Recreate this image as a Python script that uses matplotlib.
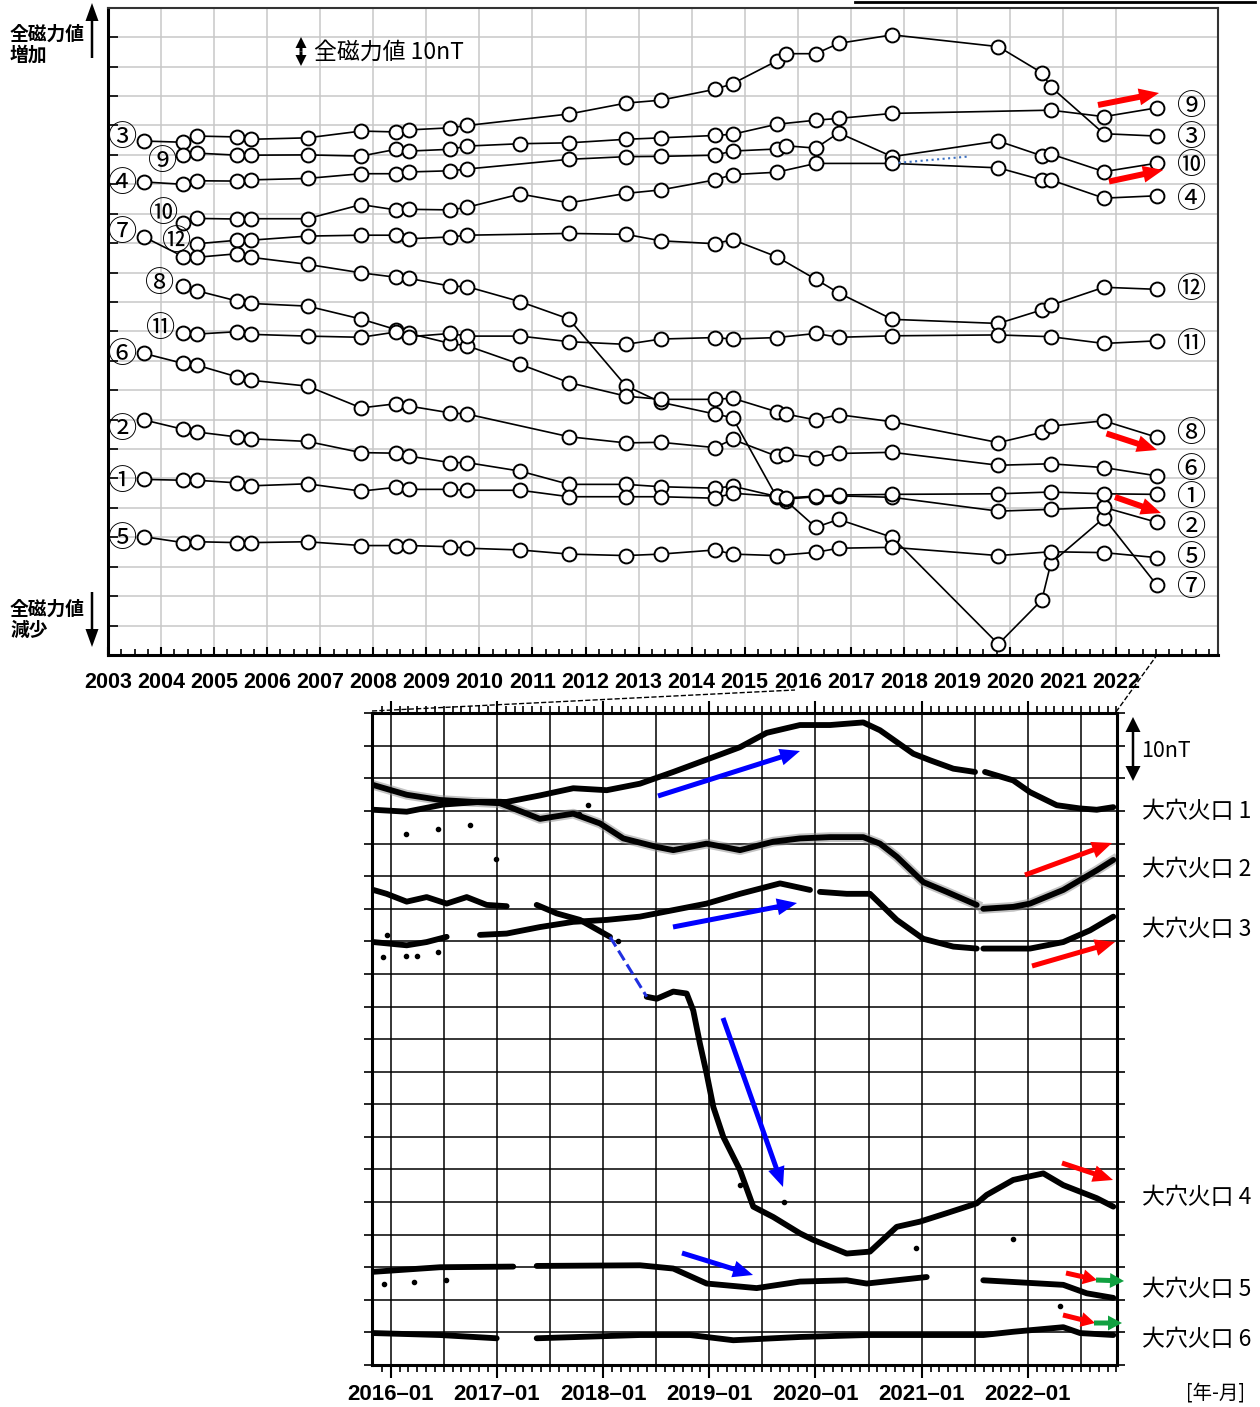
import numpy as np
import matplotlib
matplotlib.use("Agg")
import matplotlib.pyplot as plt
from matplotlib.patches import FancyArrow

plt.rcParams['font.family'] = ['Noto Sans CJK JP', 'DejaVu Sans']

N = None
# ---------------- top panel data (survey dates, relative total field, nT) ----------------
survey_dates = [2003.68, 2004.42, 2004.68, 2005.44, 2005.69, 2006.76, 2007.77, 2008.43, 2008.68,
                2009.45, 2009.77, 2010.77, 2011.69, 2012.76, 2013.42, 2014.44, 2014.77, 2015.60,
                2015.78, 2016.34, 2016.77, 2017.78, 2019.78, 2020.60, 2020.77, 2021.77, 2022.77]
s3 = [174.7, 174.3, 176.4, 176.1, 175.3, 175.8, 178.1, 177.8, 178.5, 179.2, 180.0, N, 183.9, 187.6, 188.6,
      192.3, 194.2, 201.9, 204.4, 204.4, 207.9, 210.8, 206.8, 197.9, 193.1, 177.2, 176.4]
s9 = [N, 169.9, 170.6, 169.9, 169.9, 170.0, 169.6, 171.9, 171.3, 171.9, 173.0, 173.8, 174.1, 175.3, 175.8,
      176.6, 177.0, 180.4, N, 181.8, 182.4, 184.1, N, N, 185.2, 183.0, 186.0]
s4 = [160.8, 160.0, 161.2, 161.1, 161.5, 162.0, 163.6, 163.6, 164.2, 164.6, 165.2, N, 168.5, 169.4, 169.5,
      169.9, 171.3, 172.0, 173.1, 172.3, 177.5, 169.4, 174.7, 169.7, 170.3, 164.3, 167.2]
s10 = [N, 146.9, 148.4, 148.2, 148.3, 148.3, 153.1, 151.3, 151.5, 151.3, 152.2, 156.7, 153.7, 156.9, 158.1,
       161.5, 163.3, 164.1, N, 167.1, N, 167.1, 165.6, 161.5, 161.5, 155.3, 156.1]
s12 = [N, N, 139.8, 141.0, 141.0, 142.4, 142.7, 142.7, 141.5, 142.1, 142.7, N, 143.3, 143.0, 140.8,
       139.8, 141.2, 135.4, N, 127.7, 123.1, 114.1, 112.7, 117.3, 118.9, 125.0, 124.3]
s7 = [142.1, 135.4, 135.2, 136.4, 135.2, 132.8, 129.9, 128.4, 128.0, 125.4, 125.2, 120.1, 114.2, 91.5, 85.9,
      81.9, 80.7, 53.8, 52.4, 43.4, 46.1, 40.0, 3.7, 18.7, 31.2, 46.6, 23.7]
s8 = [N, 125.4, 123.8, 120.3, 119.5, 118.6, 114.2, 110.6, 109.3, 105.9, 105.1, 98.8, 92.6, 88.0, 86.9,
      86.9, 87.3, 82.7, 81.9, 79.9, 81.7, 79.3, 72.2, 75.7, 77.8, 79.6, 74.0]
s11 = [N, 109.6, 109.1, 109.9, 109.0, 108.4, 108.0, 109.8, 108.2, 109.3, 108.4, 108.4, 106.5, 105.6, 107.4,
       107.9, 107.4, 107.9, N, 109.3, 108.0, 108.5, 108.8, N, 108.2, 105.9, 106.8]
s6 = [102.5, 99.1, 98.5, 94.5, 93.4, 91.4, 84.0, 85.4, 84.6, 82.3, 81.9, N, 74.2, 72.1, 72.3,
      70.5, 73.3, 67.6, 68.3, 67.1, 68.5, 68.9, 64.5, N, 65.0, 63.7, 60.9]
s2 = [79.9, 76.7, 75.8, 74.1, 73.5, 72.6, 68.8, 68.6, 67.6, 65.4, 65.4, 62.5, 58.0, 58.0, 57.2,
      56.7, 57.4, 53.9, 53.0, 53.8, 54.1, 53.6, 48.9, N, 49.5, 50.2, 45.1]
s1 = [59.7, 59.4, 59.4, 58.5, 57.5, 58.2, 55.7, 57.0, 56.3, 56.3, 56.0, 56.0, 53.8, 53.8, 53.8,
      53.3, 55.0, 53.9, 53.4, 54.0, 54.4, 54.6, 54.8, N, 55.4, 54.8, 54.6]
s5 = [40.2, 38.2, 38.5, 38.2, 38.2, 38.5, 37.2, 37.2, 37.2, 36.8, 36.3, 35.7, 34.3, 33.8, 34.3,
      35.7, 34.3, 33.8, N, 34.9, 36.3, 36.6, 33.8, N, 35.1, 34.8, 33.1]
top_series = [s3, s9, s4, s10, s12, s7, s8, s11, s6, s2, s1, s5]
top_years = list(range(2003, 2023))

# labels: (text, x_px, y_px)
left_labels = [("③", 123, 135), ("⑨", 163, 159), ("④", 123, 181), ("⑩", 164, 211), ("⑦", 123, 230),
               ("⑫", 177, 239), ("⑧", 160, 281), ("⑪", 161, 326), ("⑥", 123, 352), ("②", 123, 427),
               ("①", 123, 479), ("⑤", 123, 536)]
right_labels = [("⑨", 104), ("③", 135), ("⑩", 163), ("④", 197), ("⑫", 287), ("⑪", 342), ("⑧", 431),
                ("⑥", 467), ("①", 495), ("②", 525), ("⑤", 555), ("⑦", 585)]

# ---------------- bottom panel data (continuous stations) ----------------
c1_t = [2015.836, 2016.151, 2016.495, 2016.841, 2017.092, 2017.406, 2017.719, 2018.034, 2018.347, 2018.661,
        2018.975, 2019.289, 2019.540, 2019.854, 2020.137, 2020.450, 2020.607, 2020.921, 2021.078, 2021.298,
        2021.502, 2021.55, 2021.596, 2021.862, 2022.020, 2022.271, 2022.491, 2022.648, 2022.804]
c1_v = [85.2, 84.9, 86.0, 86.4, 86.4, 87.4, 88.5, 88.2, 89.2, 91.0, 92.9, 94.8, 97.0, 98.2, 98.2, 98.6, 97.4,
        93.8, 92.8, 91.5, 91.0, N, 91.0, 89.7, 87.9, 85.9, 85.4, 85.2, 85.6]
c2_t = [2015.836, 2016.151, 2016.464, 2016.778, 2017.029, 2017.281, 2017.406, 2017.719, 2017.971, 2018.190,
        2018.505, 2018.661, 2018.975, 2019.289, 2019.603, 2019.854, 2020.137, 2020.450, 2020.607, 2020.765,
        2021.015, 2021.235, 2021.518, 2021.55, 2021.580, 2021.862, 2022.020, 2022.333, 2022.648, 2022.804]
c2_v = [89.0, 87.5, 86.7, 86.4, 86.2, 84.6, 83.8, 84.6, 83.1, 80.8, 79.5, 79.0, 80.0, 79.0, 80.3, 80.8, 81.0,
        81.0, 80.0, 78.0, 74.1, 72.6, 70.6, N, 70.0, 70.3, 70.8, 72.9, 75.9, 77.5]
c3_t = [2015.836, 2016.151, 2016.339, 2016.527, 2016.70, 2016.841, 2017.092, 2017.406, 2017.719, 2018.034,
        2018.347, 2018.661, 2018.975, 2019.289, 2019.666, 2019.948, 2019.99, 2020.042, 2020.294, 2020.513,
        2020.765, 2021.015, 2021.298, 2021.518, 2021.55, 2021.580, 2022.020, 2022.333, 2022.585, 2022.804]
c3_v = [64.9, 64.4, 64.9, 65.7, N, 66.0, 66.2, 67.2, 68.0, 68.3, 68.8, 69.8, 70.8, 72.3, 73.9, 72.9, N, 72.6,
        72.3, 72.3, 68.3, 65.4, 64.2, 63.9, N, 63.9, 63.9, 64.9, 66.7, 68.8]
c4_t = [2015.836, 2015.962, 2016.151, 2016.339, 2016.527, 2016.716, 2016.904, 2017.092, 2017.2, 2017.375,
        2017.563, 2017.782, 2018.065, 2018.25, 2018.411, 2018.505, 2018.661, 2018.787, 2018.849, 2018.912,
        2018.975, 2019.038, 2019.132, 2019.289, 2019.414, 2019.603, 2019.854, 2019.979, 2020.294, 2020.513,
        2020.765, 2020.984, 2021.235, 2021.518, 2021.612, 2021.862, 2022.145, 2022.333, 2022.648, 2022.804]
c4_v = [72.9, 72.3, 71.1, 71.8, 70.8, 71.8, 70.6, 70.4, N, 70.6, 69.3, 68.3, 65.7, N, 56.5, 56.2, 57.3, 57.0,
        54.4, 49.3, 44.7, 39.6, 35.0, 29.9, 24.3, 22.7, 20.2, 19.2, 17.1, 17.4, 21.2, 22.0, 23.3, 24.8, 26.1,
        28.4, 29.4, 27.6, 25.6, 24.3]
c5_t = [2015.836, 2016.464, 2017.154, 2017.25, 2017.375, 2018.347, 2018.661, 2018.975, 2019.446, 2019.854,
        2020.294, 2020.482, 2021.047, 2021.3, 2021.580, 2022.333, 2022.554, 2022.804]
c5_v = [14.3, 15.0, 15.1, N, 15.2, 15.3, 14.8, 12.5, 11.8, 12.8, 13.0, 12.5, 13.5, N, 13.0, 12.3, 11.0, 10.3]
c6_t = [2015.836, 2016.464, 2016.998, 2017.2, 2017.375, 2018.347, 2018.818, 2019.226, 2019.854, 2020.482,
        2021.518, 2021.580, 2021.862, 2022.333, 2022.491, 2022.804]
c6_v = [4.9, 4.6, 4.1, N, 4.1, 4.6, 4.6, 3.8, 4.3, 4.6, 4.6, 4.6, 5.1, 5.8, 4.9, 4.6]
# link across the gap of station 4
c4_link_t = [2018.065, 2018.411]
c4_link_v = [65.7, 56.5]
# isolated outlier samples
out_t = [2016.14, 2016.45, 2016.75, 2016.99, 2017.86, 2017.77, 2015.93, 2016.14, 2016.25, 2016.45, 2015.97,
         2018.14, 2019.29, 2019.70, 2015.94, 2016.22, 2016.52, 2020.95, 2021.86, 2022.30]
out_v = [81.5, 82.2, 82.9, 77.7, 86.0, 84.6, 62.6, 62.7, 62.7, 63.3, 66.0, 65.0, 27.6, 25.0, 12.5, 12.8,
         13.0, 18.0, 19.4, 9.0]
bottom_labels = [("大穴火口 1", 811), ("大穴火口 2", 870), ("大穴火口 3", 929),
                 ("大穴火口 4", 1198), ("大穴火口 5", 1290), ("大穴火口 6", 1340)]
bottom_years = list(range(2016, 2023))

W, H = 1260, 1407
fig = plt.figure(figsize=(W / 100, H / 100), dpi=100)


def frac(l, t, r, b):
    return [l / W, 1 - b / H, (r - l) / W, (b - t) / H]


def clean(x, y):
    xs = [a for a, b in zip(x, y) if b is not None]
    ys = [b for b in y if b is not None]
    return xs, ys


def gapped(x, y):
    return np.array(x, float), np.array([np.nan if v is None else v for v in y], float)

# ---------------- top axes ----------------
ax = fig.add_axes(frac(108, 7.8, 1218, 655))
ax.set_xlim(2003, 2023.92)
ax.set_ylim(0, 220)
for s in top_series:
    xs, ys = clean(survey_dates, s)
    ax.plot(xs, ys, '-', color='black', lw=1.2, marker='o', ms=10, mfc='white', mec='black', mew=1.4,
            zorder=3)
ax.plot([2017.90, 2019.19], [167.3, 169.4], ':', color='#3a6fc0', lw=1.5, zorder=4)
ax.set_xticks(top_years)
ax.set_xticklabels([str(y) for y in top_years], family='Liberation Sans', fontweight='bold', fontsize=15.5)
ax.set_xticks(np.arange(2003, 2023.9, 0.25), minor=True)
ax.set_yticks(np.arange(0, 221, 10))
ax.set_yticklabels([])
ax.tick_params(axis='x', which='major', direction='in', length=6, width=1.5, pad=12)
ax.tick_params(axis='x', which='minor', direction='in', length=4, width=1.2)
ax.tick_params(axis='y', direction='in', length=7, width=1.2)
ax.tick_params(top=False, right=False)
ax.grid(True, which='major', color='#c8c8c8', lw=1.1, zorder=0)
for sp in ['left', 'bottom']:
    ax.spines[sp].set_linewidth(2.2)
    ax.spines[sp].set_color('black')
for sp in ['top', 'right']:
    ax.spines[sp].set_linewidth(1.5)
    ax.spines[sp].set_color('#333333')

# ---------------- bottom axes ----------------
bx = fig.add_axes(frac(372.3, 713.3, 1116.7, 1365))
bx.set_xlim(2015.827, 2022.836)
bx.set_ylim(0, 100)
gx, gy = gapped(c2_t, c2_v)
bx.plot(gx, gy, color='#888888', lw=7, alpha=0.5, zorder=2)
for t, v in [(c1_t, c1_v), (c2_t, c2_v), (c3_t, c3_v), (c4_t, c4_v), (c5_t, c5_v), (c6_t, c6_v)]:
    gx, gy = gapped(t, v)
    bx.plot(gx, gy, color='black', lw=4.2, solid_capstyle='round', zorder=3)
bx.plot(c4_link_t, c4_link_v, '--', color='#2030e0', lw=2.2, zorder=3)
bx.plot(out_t, out_v, 'o', color='black', ms=3, zorder=3)
bx.set_xticks(bottom_years)
bx.set_xticklabels([f"{y}–01" for y in bottom_years], family='Liberation Sans', fontweight='bold',
                   fontsize=16)
bx.set_xticks(np.arange(2015 + 11 / 12, 2022.84, 1 / 12), minor=True)
bx.set_yticks(np.arange(0, 101, 5))
bx.set_yticklabels([])
bx.tick_params(axis='x', which='major', direction='out', length=9, width=1.5, top=True, pad=5)
bx.tick_params(axis='x', which='minor', direction='out', length=5, width=1.2, top=True)
bx.tick_params(axis='y', direction='out', length=6, width=1.2, right=True)
for yv in np.arange(5, 100, 5):
    bx.axhline(yv, color='black', lw=1.1, zorder=1)
for xv in np.arange(2016, 2022.84, 0.5):
    bx.axvline(xv, color='black', lw=1.1, zorder=1)
for sp in bx.spines.values():
    sp.set_linewidth(2.2)

# ---------------- overlay (pixel coordinates) ----------------
ov = fig.add_axes([0, 0, 1, 1], zorder=10)
ov.set_xlim(0, W)
ov.set_ylim(H, 0)
ov.axis('off')
ov.patch.set_alpha(0)


def arrow(x0, y0, x1, y1, color, w=6, hw=17, hl=20):
    ov.add_patch(FancyArrow(x0, y0, x1 - x0, y1 - y0, width=w, head_width=hw, head_length=hl,
                            length_includes_head=True, color=color, lw=0))


for txt, x, y in left_labels:
    ov.text(x, y + 3, txt, fontsize=21, ha='center', va='center')
for txt, y in right_labels:
    ov.text(1192, y + 3, txt, fontsize=21, ha='center', va='center')

# red arrows (top)
arrow(1098, 105, 1159, 93, 'red')
arrow(1109, 181.5, 1163, 170, 'red')
arrow(1106.5, 433.5, 1157, 450, 'red')
arrow(1115, 497, 1161, 513, 'red')

# axis direction annotations
ov.text(10, 34, "全磁力値", fontsize=13.5, fontweight='bold', va='center')
ov.text(10, 55, "増加", fontsize=13.5, fontweight='bold', va='center')
arrow(92, 58, 92, 3, 'black', w=2.5, hw=13, hl=18)
ov.text(10, 609, "全磁力値", fontsize=13.5, fontweight='bold', va='center')
ov.text(10, 630, "減少", fontsize=13.5, fontweight='bold', va='center')
arrow(92, 592, 92, 647, 'black', w=2.5, hw=13, hl=18)
# 10 nT scale top
arrow(301, 51.5, 301, 37, 'black', w=3, hw=11, hl=11)
arrow(301, 51.5, 301, 66, 'black', w=3, hw=11, hl=11)
ov.text(314, 52, "全磁力値 10nT", fontsize=16.5, va='center')
# 10 nT scale bottom
arrow(1133, 749, 1133, 717, 'black', w=2.5, hw=15, hl=15)
arrow(1133, 749, 1133, 781, 'black', w=2.5, hw=15, hl=15)
ov.text(1141, 751, "10nT", fontsize=15.5, va='center')

for txt, y in bottom_labels:
    ov.text(1142, y, txt, fontsize=16.5, va='center')
ov.text(1215, 1393, "[年-月]", fontsize=14, ha='center', va='center')

# blue arrows (bottom)
arrow(658, 796, 800, 751, 'blue', w=5, hw=17, hl=20)
arrow(673, 927, 797, 903, 'blue', w=5, hw=17, hl=20)
arrow(723, 1018, 783, 1187, 'blue', w=5, hw=17, hl=20)
arrow(682, 1253, 753, 1275, 'blue', w=5, hw=17, hl=20)
# red / green arrows (bottom)
arrow(1025, 875, 1112, 843, 'red', w=5, hw=17, hl=20)
arrow(1032, 966, 1115, 942, 'red', w=5, hw=17, hl=20)
arrow(1062, 1163, 1113, 1180, 'red', w=5, hw=17, hl=20)
arrow(1066, 1273, 1097, 1280, 'red', w=5, hw=15, hl=14)
arrow(1096, 1280, 1124, 1281, '#10a040', w=5, hw=15, hl=14)
arrow(1063, 1315, 1095, 1323, 'red', w=5, hw=15, hl=14)
arrow(1094, 1323, 1122, 1323, '#10a040', w=5, hw=15, hl=14)

# zoom guide lines
ov.plot([372, 795], [711, 690], '--', color='black', lw=1)
ov.plot([1116, 1157], [712, 655], '--', color='black', lw=1)
ov.plot([855, 1255], [1.5, 1.5], '-', color='black', lw=2)

fig.savefig("out.png", dpi=100)
